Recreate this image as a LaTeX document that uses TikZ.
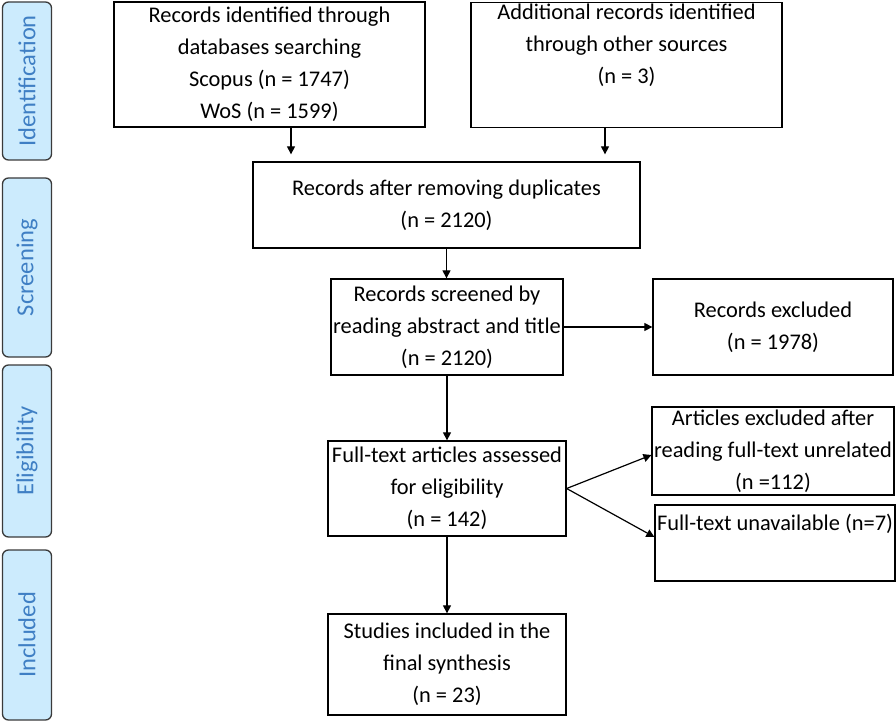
\documentclass[tikz,border=0pt]{standalone}
\usepackage{fontspec}
\setmainfont{Carlito}
\usetikzlibrary{positioning, arrows.meta}
\definecolor{phasefill}{HTML}{CCEBFD}
\definecolor{phasetext}{HTML}{3F7FC4}
\definecolor{phaseline}{HTML}{3A3A3A}
\tikzset{
	box/.style={draw, line width=1.3pt, align=center, inner sep=2pt, font=\fontsize{22.4}{32}\selectfont}, % the record boxes
	phase/.style={draw=phaseline, fill=phasefill, line width=1.3pt, rounded corners=6pt, rotate=90, minimum height=49pt, text=phasetext, font=\fontsize{24.5}{28}\selectfont}, % the stage labels on the left
	flow/.style={-{Triangle[length=8pt,width=8pt]}, line width=1.2pt}, % arrows between boxes
}
\begin{document}
\begin{tikzpicture}[x=1pt, y=-1pt]
	\useasboundingbox (0,0) rectangle (896,722);
	% stages
	\node[phase, minimum width=158pt] (ident) at (27,81) {Identification};
	\node[phase, minimum width=179pt] (screen) at (27,267.5) {Screening};
	\node[phase, minimum width=172pt] (elig) at (27,451) {Eligibility};
	\node[phase, minimum width=170pt] (incl) at (27,635) {Included};
	% records
	\node[box, minimum width=311pt, minimum height=125pt] (rec1) at (269.5,64.5) {Records identified through\\databases searching\\Scopus (n = 1747)\\WoS (n = 1599)};
	\node[box, minimum width=311pt, minimum height=122pt] (rec2) at (626.5,65) {Additional records identified\\through other sources\\(n = 3)\\\strut};
	\node[box, minimum width=387pt, minimum height=86pt] (dup) at (446.5,205) {Records after removing duplicates\\(n = 2120)};
	\node[box, minimum width=232pt, minimum height=96pt] (scr) at (447,327) {Records screened by\\reading abstract and title\\(n = 2120)};
	\node[box, minimum width=240pt, minimum height=96pt] (excl) at (773,327) {Records excluded\\(n = 1978)};
	\node[box, minimum width=238pt, minimum height=95pt] (full) at (447,488.5) {Full-text articles assessed\\for eligibility\\(n = 142)};
	\node[box, minimum width=240pt, minimum height=88pt] (art) at (773,451) {Articles excluded after\\reading full-text unrelated\\(n =112)};
	\node[box, minimum width=238pt, minimum height=76pt] (unav) at (775,543) {Full-text unavailable (n=7)\\\strut};
	\node[box, minimum width=238pt, minimum height=101pt] (stud) at (447,664.5) {Studies included in the\\final synthesis\\(n = 23)};
	% arrows
	\draw[flow, shorten >=7pt] ([xshift=21.5pt]rec1.south) -- ([xshift=21.5pt]rec1.south |- dup.north);
	\draw[flow, shorten >=7pt] ([xshift=-21.5pt]rec2.south) -- ([xshift=-21.5pt]rec2.south |- dup.north);
	\draw[flow] (dup.south) -- (dup.south |- scr.north);
	\draw[flow] (scr) -- (excl);
	\draw[flow] (scr) -- (full);
	\draw[flow] (full) -- (stud);
	\draw[flow] (full.east) -- ([yshift=-4pt]art.west);
	\draw[flow] (full.east) -- ([yshift=6pt]unav.west);
\end{tikzpicture}
\end{document}
